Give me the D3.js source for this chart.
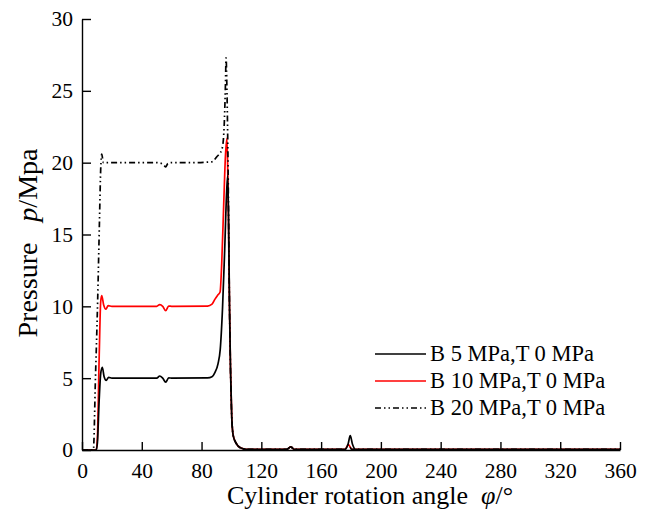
<!DOCTYPE html>
<html>
<head>
<meta charset="utf-8">
<script src="https://cdn.jsdelivr.net/npm/d3@7"></script>
<style>
  body { margin: 0; background: #fff; }
  svg text { font-family: "Liberation Serif", "DejaVu Serif", serif; fill: #000; }
</style>
</head>
<body>
<div id="chart"></div>
<script>
const w = 649;
const h = 520;

// cylinder rotation angle (deg) and pressure (MPa)
const b5Angle = [0, 9.5, 10.3, 11.5, 12.5, 13.6, 14.8, 16.2, 17.8, 20, 50, 52, 54, 56, 58, 60, 84, 87, 89, 91, 92.5, 94, 95.5, 96.8, 97.5, 98.1, 98.7, 99.4, 100.2, 101.2, 103, 106, 110, 137, 139.7, 142, 176, 178, 179.5, 181, 183, 360];
const b5Press = [0, 0, 0.5, 3.5, 5.3, 5.75, 5.1, 4.85, 5.05, 5.0, 5.0, 5.15, 5.0, 4.72, 5.02, 5.0, 5.02, 5.1, 5.4, 6.0, 7.0, 9.8, 14, 18, 19.1, 16, 10, 5.5, 2.3, 1.0, 0.5, 0.15, 0.05, 0.05, 0.22, 0.05, 0.05, 0.4, 1.0, 0.4, 0.05, 0.05];

const b10Angle = [0, 9.5, 10.3, 11.5, 12.5, 13.2, 14.5, 16, 17.5, 20, 50, 52, 54, 56, 58, 60, 84, 87, 89, 91, 92.4, 93.5, 94.8, 96, 97, 97.6, 98.7, 99.4, 100.2, 101.2, 103, 106, 110, 137, 139.7, 142, 176, 178.3, 180.5, 360];
const b10Press = [0, 0, 0.8, 6.5, 10.3, 10.75, 10.1, 9.8, 10.05, 10.0, 10.0, 10.12, 10.0, 9.7, 10.02, 10.0, 10.02, 10.15, 10.5, 10.8, 11.0, 13, 17, 20.5, 21.7, 19, 10, 5.5, 2.3, 1.0, 0.5, 0.15, 0.05, 0.05, 0.22, 0.05, 0.05, 0.38, 0.05, 0.05];

const b20Angle = [0, 7.6, 9, 10.5, 11.7, 12.5, 13.2, 14.3, 16, 20, 50, 53, 55, 56, 57.5, 60, 72, 86.8, 90.1, 93.5, 94.6, 95.3, 96, 96.4, 97, 97.6, 98.7, 99.4, 100.2, 101.2, 103, 106, 110, 137, 139.7, 142, 176, 178.3, 180.5, 360];
const b20Press = [0, 0, 5, 10.5, 16, 19.5, 20.6, 20.0, 20.0, 20.0, 20.0, 19.95, 19.8, 19.7, 19.95, 20, 20, 20.06, 20.4, 20.9, 21.6, 23, 25.5, 27.3, 25, 21, 10, 5.5, 2.3, 1.0, 0.5, 0.15, 0.05, 0.05, 0.22, 0.05, 0.05, 0.38, 0.05, 0.05];

const seriesNames = ["B 5 MPa,T 0 MPa", "B 10 MPa,T 0 MPa", "B 20 MPa,T 0 MPa"];
const xTicks = [0, 40, 80, 120, 160, 200, 240, 280, 320, 360];
const yTicks = [0, 5, 10, 15, 20, 25, 30];

const series = [
  { name: seriesNames[0], angle: b5Angle, press: b5Press, color: "#000", dash: null },
  { name: seriesNames[1], angle: b10Angle, press: b10Press, color: "#ff0000", dash: null },
  { name: seriesNames[2], angle: b20Angle, press: b20Press, color: "#000", dash: "6,3,1.5,3,1.5,3" }
];

const svg = d3.select("#chart").append("svg")
  .attr("width", w).attr("height", h);

const x = d3.scaleLinear().domain([0, 360]).range([82, 620]);
const y = d3.scaleLinear().domain([0, 30]).range([450, 19]);

const line = d3.line()
  .x((d) => x(d[0]))
  .y((d) => y(d[1]))
  .curve(d3.curveMonotoneX);

// draw order: red first, then black, dashdot on top
[series[1], series[0], series[2]].forEach((s) => {
  const pts = s.angle.map((a, i) => [a, s.press[i]]);
  svg.append("path")
    .attr("d", line(pts))
    .attr("fill", "none")
    .attr("stroke", s.color)
    .attr("stroke-width", 1.7)
    .attr("stroke-dasharray", s.dash);
});

const xAxis = svg.append("g")
  .attr("transform", "translate(0,450)")
  .call(d3.axisBottom(x).tickValues(xTicks).tickSizeInner(-8).tickSizeOuter(0).tickPadding(13));

const yAxis = svg.append("g")
  .attr("transform", "translate(82,0)")
  .call(d3.axisLeft(y).tickValues(yTicks).tickSizeInner(-9).tickSizeOuter(0).tickPadding(9));

[xAxis, yAxis].forEach((g) => {
  g.selectAll("path, line").attr("stroke", "#000").attr("stroke-width", 1.4);
  g.selectAll("text").style("font-size", "21.5px").style("font-family", "Liberation Serif");
});

// axis titles
const xt = svg.append("text")
  .attr("x", 370).attr("y", 504)
  .attr("text-anchor", "middle")
  .style("font-size", "26px");
xt.append("tspan").text("Cylinder rotation angle\u00a0\u00a0");
xt.append("tspan").style("font-style", "italic").text("\u03c6");
xt.append("tspan").text("/\u00b0");

const yt = svg.append("text")
  .attr("transform", "translate(37,243) rotate(-90)")
  .attr("text-anchor", "middle")
  .style("font-size", "28px");
yt.append("tspan").text("Pressure\u00a0\u00a0\u00a0");
yt.append("tspan").style("font-style", "italic").text("p");
yt.append("tspan").text("/Mpa");

// legend
const legend = svg.append("g");
const rowY = [354, 381, 408];
series.forEach((s, i) => {
  legend.append("line")
    .attr("x1", 375).attr("x2", 426)
    .attr("y1", rowY[i]).attr("y2", rowY[i])
    .attr("stroke", s.color)
    .attr("stroke-width", 1.6)
    .attr("stroke-dasharray", s.dash);
  legend.append("text")
    .attr("x", 430).attr("y", rowY[i] + 7)
    .style("font-size", "22.5px")
    .text(s.name);
});
</script>
</body>
</html>
